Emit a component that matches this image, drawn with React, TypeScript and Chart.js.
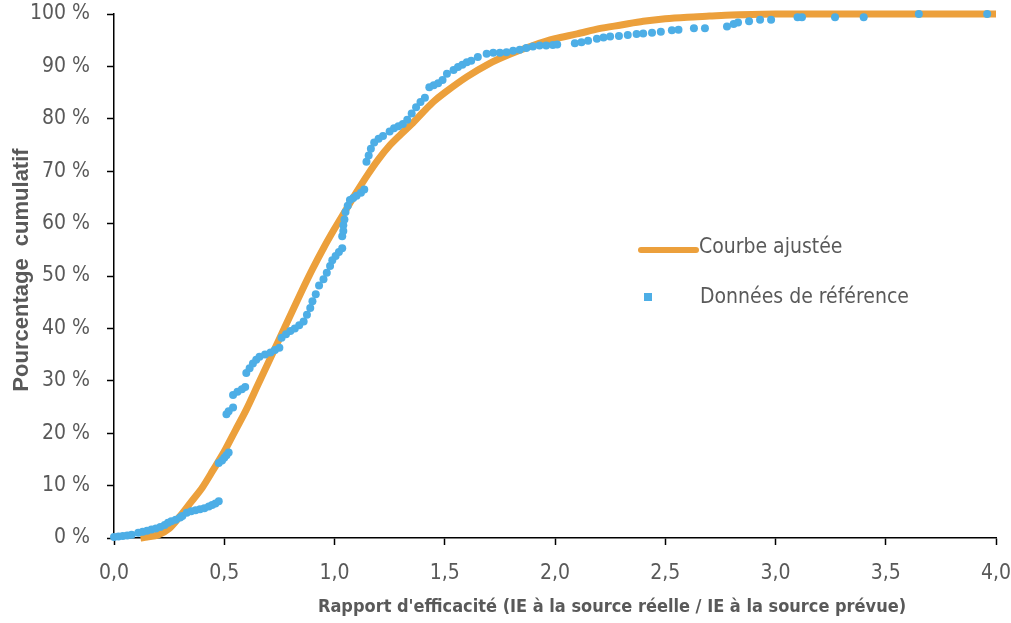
import React, { useEffect, useRef } from "react";
import { Chart, registerables } from "chart.js";

Chart.register(...registerables);

// Fitted curve (Courbe ajustée)
const fitX = [0.12, 0.15, 0.2, 0.25, 0.3, 0.35, 0.4, 0.45, 0.5, 0.55, 0.6, 0.65, 0.7, 0.75, 0.8, 0.85, 0.9, 0.95, 1.0, 1.05, 1.1, 1.15, 1.2, 1.25, 1.3, 1.35, 1.4, 1.45, 1.5, 1.6, 1.7, 1.8, 1.9, 2.0, 2.1, 2.2, 2.3, 2.4, 2.5, 2.6, 2.7, 2.8, 3.0, 3.5, 4.0];
const fitY = [0, 0.2, 0.6, 1.8, 4.2, 6.9, 9.6, 13.0, 16.5, 20.5, 24.5, 29.0, 33.5, 38.0, 42.5, 47.0, 51.3, 55.3, 59.0, 62.5, 66.0, 69.3, 72.3, 74.9, 77.0, 79.0, 81.2, 83.3, 85.0, 88.0, 90.5, 92.4, 94.0, 95.3, 96.2, 97.2, 97.9, 98.6, 99.1, 99.4, 99.6, 99.8, 100, 100, 100];

// Reference data (Données de référence)
const refX = [0.0, 0.02, 0.04, 0.06, 0.08, 0.11, 0.13, 0.15, 0.17, 0.19, 0.21, 0.23, 0.245, 0.26, 0.28, 0.3, 0.31, 0.33, 0.35, 0.37, 0.39, 0.41, 0.43, 0.445, 0.46, 0.475, 0.475, 0.49, 0.5, 0.51, 0.52, 0.51, 0.52, 0.54, 0.54, 0.56, 0.58, 0.595, 0.6, 0.615, 0.63, 0.645, 0.66, 0.685, 0.71, 0.73, 0.75, 0.76, 0.78, 0.8, 0.82, 0.84, 0.86, 0.875, 0.89, 0.9, 0.915, 0.93, 0.95, 0.965, 0.98, 0.99, 1.005, 1.02, 1.035, 1.035, 1.04, 1.04, 1.045, 1.05, 1.06, 1.07, 1.085, 1.1, 1.12, 1.135, 1.145, 1.155, 1.165, 1.18, 1.2, 1.22, 1.25, 1.27, 1.29, 1.31, 1.33, 1.35, 1.37, 1.39, 1.41, 1.43, 1.45, 1.47, 1.49, 1.51, 1.54, 1.56, 1.58, 1.6, 1.62, 1.65, 1.69, 1.72, 1.75, 1.78, 1.81, 1.84, 1.87, 1.9, 1.93, 1.96, 1.99, 2.01, 2.09, 2.12, 2.15, 2.19, 2.22, 2.25, 2.29, 2.33, 2.37, 2.4, 2.44, 2.48, 2.53, 2.56, 2.63, 2.68, 2.78, 2.81, 2.83, 2.88, 2.93, 2.98, 3.1, 3.12, 3.27, 3.4, 3.65, 3.96];
const refY = [0.2, 0.3, 0.4, 0.5, 0.6, 1.0, 1.2, 1.4, 1.6, 1.8, 2.1, 2.5, 2.9, 3.2, 3.5, 3.9, 4.2, 4.8, 5.1, 5.3, 5.5, 5.7, 6.0, 6.3, 6.6, 7.0, 14.3, 14.8, 15.3, 15.8, 16.3, 23.6, 24.2, 24.9, 27.3, 27.9, 28.4, 28.8, 31.5, 32.4, 33.3, 34.0, 34.6, 35.0, 35.4, 35.9, 36.3, 38.2, 38.9, 39.5, 40.0, 40.6, 41.3, 42.6, 43.9, 45.2, 46.5, 48.2, 49.4, 50.6, 51.9, 53.0, 53.8, 54.6, 55.3, 57.6, 58.6, 59.7, 60.8, 62.2, 63.4, 64.5, 64.9, 65.3, 65.9, 66.5, 71.8, 73.0, 74.3, 75.5, 76.2, 76.7, 77.6, 78.2, 78.6, 79.0, 79.8, 81.0, 82.2, 83.2, 84.0, 86.0, 86.4, 86.8, 87.4, 88.6, 89.3, 89.9, 90.3, 90.8, 91.1, 91.8, 92.4, 92.6, 92.6, 92.7, 93.0, 93.2, 93.5, 93.8, 94.0, 94.0, 94.1, 94.2, 94.4, 94.6, 94.9, 95.3, 95.5, 95.7, 95.8, 96.0, 96.2, 96.3, 96.4, 96.6, 96.9, 97.0, 97.3, 97.3, 97.6, 98.1, 98.4, 98.6, 98.9, 98.9, 99.4, 99.4, 99.4, 99.4, 100, 100];

const xTicks = [0, 0.5, 1, 1.5, 2, 2.5, 3, 3.5, 4];
const yTicks = [0, 10, 20, 30, 40, 50, 60, 70, 80, 90, 100];

const FIT_LABEL = "Courbe ajustée";
const REF_LABEL = "Données de référence";
const X_TITLE = "Rapport d'efficacité (IE à la source réelle / IE à la source prévue)";
const Y_TITLE = "Pourcentage  cumulatif";

const ORANGE = "#ECA03C";
const BLUE = "#4DAEE6";
const GREY = "#595959";
const NARROW = '"Liberation Sans Narrow", "Arial Narrow", "DejaVu Sans Condensed", sans-serif';

const overlayPlugin = {
  id: "overlay",
  afterDraw(chart: any) {
    const ctx = chart.ctx as CanvasRenderingContext2D;
    const ds = chart.data.datasets;
    ctx.save();
    ctx.fillStyle = GREY;
    ctx.textAlign = "center";
    ctx.textBaseline = "middle";
    ctx.font = `bold 18px ${NARROW}`;
    ctx.fillText(X_TITLE, 612, 607);
    ctx.save();
    ctx.translate(22, 270);
    ctx.rotate(-Math.PI / 2);
    ctx.font = 'bold 22px "Liberation Sans", Arial, sans-serif';
    ctx.fillText(Y_TITLE, 0, 0);
    ctx.restore();

    // legend
    ctx.strokeStyle = ORANGE;
    ctx.lineWidth = 6;
    ctx.lineCap = "round";
    ctx.beginPath();
    ctx.moveTo(641, 250);
    ctx.lineTo(696, 250);
    ctx.stroke();
    ctx.fillStyle = BLUE;
    ctx.fillRect(644, 293, 8, 8);
    ctx.fillStyle = GREY;
    ctx.textAlign = "left";
    ctx.font = `21px ${NARROW}`;
    ctx.fillText(ds[1].label, 699, 248);
    ctx.fillText(ds[0].label, 700, 298);
    ctx.restore();
  },
};

export default function App() {
  const ref = useRef<HTMLCanvasElement | null>(null);
  useEffect(() => {
    if (!ref.current) return;
    const chart = new Chart(ref.current, {
      type: "scatter",
      data: {
        datasets: [
          {
            label: REF_LABEL,
            data: refX.map((x, i) => ({ x, y: refY[i] })),
            backgroundColor: BLUE,
            borderColor: BLUE,
            pointRadius: 4,
            pointBorderWidth: 0,
            order: 0,
            clip: 10,
          },
          {
            label: FIT_LABEL,
            data: fitX.map((x, i) => ({ x, y: fitY[i] })),
            showLine: true,
            borderColor: ORANGE,
            backgroundColor: ORANGE,
            borderWidth: 7,
            pointRadius: 0,
            tension: 0.3,
            order: 1,
            clip: 10,
          } as any,
        ],
      },
      options: {
        animation: false,
        responsive: false,
        maintainAspectRatio: false,
        layout: { padding: { left: 0, right: 15, top: 14, bottom: 0 } },
        plugins: { legend: { display: false }, tooltip: { enabled: false } },
        scales: {
          x: {
            type: "linear",
            min: 0,
            max: 4,
            afterFit: (s: any) => { s.height = 85; s.paddingLeft = 0; s.paddingRight = 0; },
            afterBuildTicks: (s: any) => { s.ticks = xTicks.map((v) => ({ value: v })); },
            ticks: {
              color: GREY,
              font: { family: NARROW, size: 21 },
              padding: 16,
              callback: (v: any) => Number(v).toFixed(1).replace(".", ","),
            },
            grid: { drawOnChartArea: false, drawTicks: true, tickLength: 7, color: "#000", tickColor: "#000", tickWidth: 1.5 },
            border: { display: true, color: "#000", width: 1.5 },
          },
          y: {
            type: "linear",
            min: 0,
            max: 100,
            afterFit: (s: any) => { s.width = 114; s.paddingTop = 0; s.paddingBottom = 0; },
            afterBuildTicks: (s: any) => { s.ticks = yTicks.map((v) => ({ value: v })); },
            ticks: {
              color: GREY,
              font: { family: NARROW, size: 21 },
              padding: 17,
              callback: (v: any) => `${v} %`,
            },
            grid: { drawOnChartArea: false, drawTicks: true, tickLength: 7, color: "#000", tickColor: "#000", tickWidth: 1.5 },
            border: { display: true, color: "#000", width: 1.5 },
          },
        },
      },
      plugins: [overlayPlugin],
    });
    return () => chart.destroy();
  }, []);
  return (
    <div style={{ position: "absolute", left: 0, top: 0, width: 1011, height: 623, background: "#fff" }}>
      <canvas ref={ref} width={1011} height={623} style={{ display: "block", width: 1011, height: 623 }} />
    </div>
  );
}
